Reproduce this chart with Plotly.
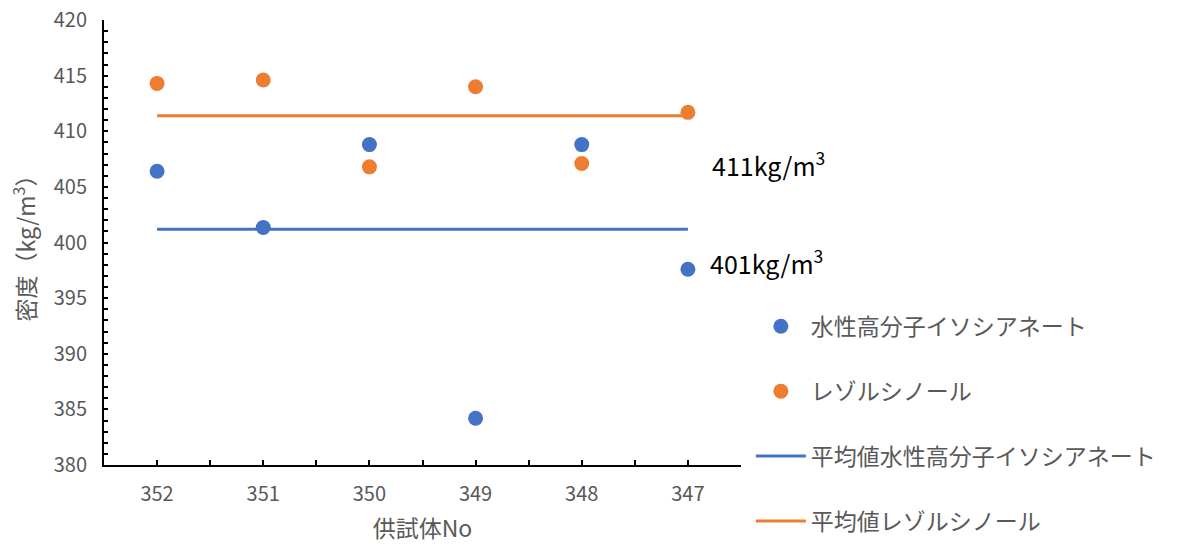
import plotly.graph_objects as go

categories = ["352", "351", "350", "349", "348", "347"]
water_iso = [406.4, 401.35, 408.8, 384.2, 408.8, 397.6]
resol = [414.3, 414.6, 406.8, 414.0, 407.1, 411.7]
avg_water_iso = [401.2] * 6
avg_resol = [411.4] * 6
y_ticks = [380, 385, 390, 395, 400, 405, 410, 415, 420]

names = ["水性高分子イソシアネート", "レゾルシノール",
         "平均値水性高分子イソシアネート", "平均値レゾルシノール"]
BLUE = "#4472C4"
ORANGE = "#ED7D31"
GRAY = "#595959"
FONT = "Noto Sans CJK JP"

xpos = list(range(len(categories)))

fig = go.Figure()
fig.add_trace(go.Scatter(x=xpos, y=water_iso, mode="markers", name=names[0],
                         marker=dict(color=BLUE, size=15), legendgroup="a"))
fig.add_trace(go.Scatter(x=xpos, y=resol, mode="markers", name=names[1],
                         marker=dict(color=ORANGE, size=15), legendgroup="b"))
fig.add_trace(go.Scatter(x=xpos, y=avg_water_iso, mode="lines", name=names[2],
                         line=dict(color=BLUE, width=3), legendgroup="c"))
fig.add_trace(go.Scatter(x=xpos, y=avg_resol, mode="lines", name=names[3],
                         line=dict(color=ORANGE, width=3), legendgroup="d"))

fig.add_annotation(x=5.21, y=407.05, xref="x", yref="y", xanchor="left",
                   text="411kg/m<sup>3</sup>", showarrow=False,
                   font=dict(family=FONT, size=25, color="black"))
fig.add_annotation(x=5.19, y=398.25, xref="x", yref="y", xanchor="left",
                   text="401kg/m<sup>3</sup>", showarrow=False,
                   font=dict(family=FONT, size=25, color="black"))

fig.update_layout(
    width=1179, height=545,
    margin=dict(l=104, r=438, t=20, b=80, autoexpand=False),
    plot_bgcolor="white", paper_bgcolor="white",
    font=dict(family=FONT, size=20, color=GRAY),
    legend=dict(x=1.0155, xanchor="left", y=0.36, yanchor="top",
                tracegroupgap=32, font=dict(size=23, color=GRAY),
                itemwidth=50),
    xaxis=dict(range=[-0.5, 5.5], tickvals=xpos, ticktext=categories,
               showgrid=False, zeroline=False, showline=True, automargin=False,
               linecolor="black", linewidth=2, ticks="inside", ticklen=5,
               tickcolor="black", tickwidth=2, ticklabelstandoff=10,
               ticklabeloverflow="allow",
               minor=dict(dtick=0.5, tick0=-0.5, ticks="inside", ticklen=5,
                          tickcolor="black", tickwidth=2, showgrid=False),
               title=dict(text="供試体No", font=dict(size=23, color=GRAY), standoff=15),
               tickfont=dict(size=20, color=GRAY)),
    yaxis=dict(range=[380, 420], tickvals=y_ticks, showgrid=False, automargin=False,
               zeroline=False, showline=True, linecolor="black", linewidth=2,
               ticks="inside", ticklen=4, tickcolor="black", tickwidth=2,
               ticklabelstandoff=11, ticklabeloverflow="allow",
               minor=dict(dtick=1, ticks="inside", ticklen=4,
                          tickcolor="black", tickwidth=2, showgrid=False),
               title=dict(text="密度（kg/m<sup>3</sup>）", font=dict(size=23, color=GRAY),
                          standoff=12),
               tickfont=dict(size=20, color=GRAY)),
)

fig.write_html("out.html", config={"displayModeBar": False},
               post_script="document.body.style.margin='0';document.body.style.overflow='hidden';")
